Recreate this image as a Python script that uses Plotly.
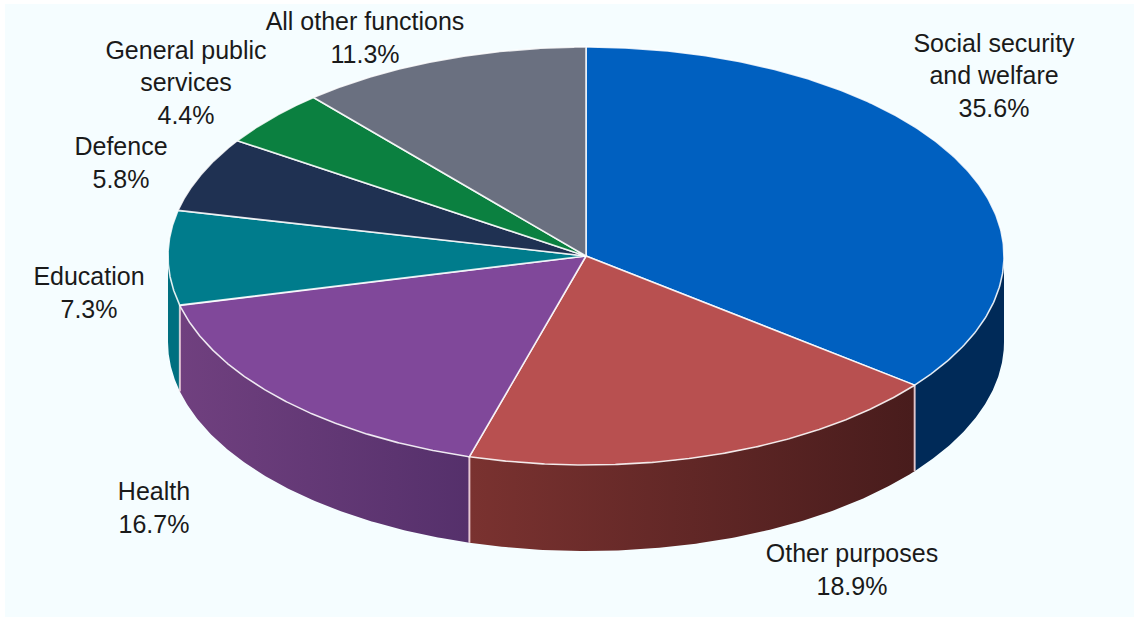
import numpy as np
import plotly.graph_objects as go

# ---- data ----
categories = ["Social security<br>and welfare", "Other purposes", "Health", "Education",
              "Defence", "General public<br>services", "All other functions"]
values = [35.6, 18.9, 16.7, 7.3, 5.8, 4.4, 11.3]
top_colors = ["#0060C0", "#B85050", "#80489A", "#007C8C", "#1F3152", "#0B8040", "#6A7080"]
side_left = ["#002A58", "#7A3230", "#70407F", "#007080", "#1F3152", "#0B8040", "#6A7080"]
side_right = ["#002A58", "#481C1C", "#55306B", "#007080", "#1F3152", "#0B8040", "#6A7080"]

# ---- layout constants ----
W, H = 1134, 619
CX, CY, RX, RY, DEPTH = 586, 256, 418, 209, 86
label_x = [994, 852, 154, 89, 121, 186, 365]
label_y = [78, 572, 510, 295, 165, 85, 40]
BG = "#F5FDFF"
EDGE = "rgba(255,255,255,0.85)"

def ell(theta, dy=0):
    return CX + RX * np.sin(theta), CY - RY * np.cos(theta) + dy

edges = np.radians(np.concatenate([[0], np.cumsum(values)]) * 3.6)
fig = go.Figure()

# side walls (only the front half, pi/2 .. 3pi/2, faces the viewer)
for i, v in enumerate(values):
    a, b = max(edges[i], np.pi / 2), min(edges[i + 1], 3 * np.pi / 2)
    if b <= a:
        continue
    t = np.linspace(a, b, 120)
    x1, y1 = ell(t)
    x2, y2 = ell(t[::-1], DEPTH)
    fig.add_trace(go.Scatter(
        x=np.r_[x1, x2, x1[0]], y=np.r_[y1, y2, y1[0]], mode="lines",
        line=dict(width=0), fill="toself", hoverinfo="skip", showlegend=False,
        fillgradient=dict(type="horizontal",
                          colorscale=[[0, side_left[i]], [1, side_right[i]]])))

# vertical seams between visible side walls
for e in edges:
    if np.pi / 2 < e < 3 * np.pi / 2:
        x0, y0 = ell(e)
        x1, y1 = ell(e, DEPTH)
        fig.add_trace(go.Scatter(x=[x0, x1], y=[y0, y1], mode="lines",
                                 line=dict(color="rgba(255,225,230,0.8)", width=2),
                                 hoverinfo="skip", showlegend=False))

# top faces
for i, v in enumerate(values):
    t = np.linspace(edges[i], edges[i + 1], 240)
    x, y = ell(t)
    fig.add_trace(go.Scatter(
        x=np.r_[CX, x, CX], y=np.r_[CY, y, CY], mode="lines", fill="toself",
        fillcolor=top_colors[i], line=dict(color=EDGE, width=1.6),
        hoverinfo="skip", showlegend=False))

# labels
fig.add_trace(go.Scatter(
    x=label_x, y=label_y, mode="text",
    text=[f"{c}<br>{v:.1f}%" for c, v in zip(categories, values)],
    textposition="middle center",
    textfont=dict(family="Liberation Sans, Arial, sans-serif", size=25, color="#1A1A1A"),
    hoverinfo="skip", showlegend=False))

fig.update_layout(
    width=W, height=H, margin=dict(l=0, r=0, t=0, b=0),
    paper_bgcolor="white", plot_bgcolor="white",
    xaxis=dict(range=[0, W], visible=False, fixedrange=True),
    yaxis=dict(range=[H, 0], visible=False, fixedrange=True),
    shapes=[dict(type="rect", layer="below", x0=5, x1=W, y0=4, y1=H - 2,
                 fillcolor=BG, line=dict(width=0))],
)
fig.write_html("out.html", config={"displayModeBar": False},
               post_script="document.body.style.margin='0';")
